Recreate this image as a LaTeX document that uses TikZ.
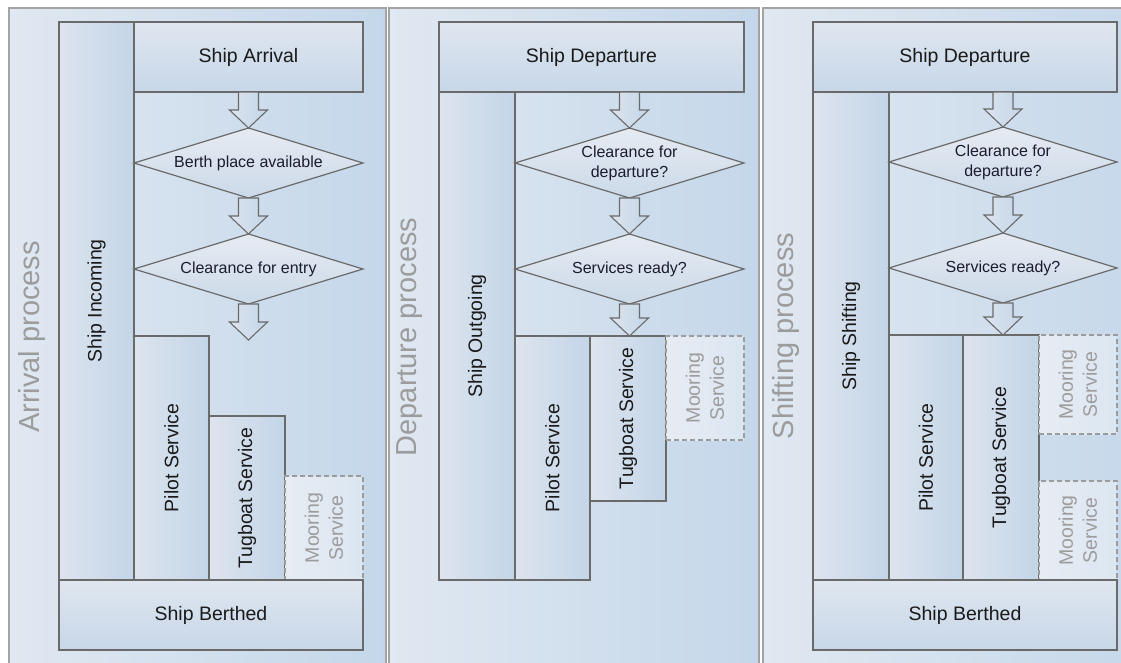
\documentclass[tikz,border=0pt]{standalone}
\usepackage{fontspec}
\setmainfont{Liberation Sans}
\usetikzlibrary{calc}
\definecolor{panelL}{HTML}{E0E8F1}
\definecolor{panelR}{HTML}{C4D7EA}
\definecolor{boxT}{HTML}{DFE6EF}
\definecolor{boxB}{HTML}{C7D7E9}
\definecolor{laneL}{HTML}{DDE4EE}
\definecolor{laneR}{HTML}{C3D5E8}
\definecolor{edge}{HTML}{6A6A6A}
\definecolor{pborder}{HTML}{A3A3A3}
\definecolor{ghost}{HTML}{9C9C9C}
\definecolor{dmT}{HTML}{E6EBF2}
\definecolor{dmB}{HTML}{CBD9E8}
\definecolor{ink}{HTML}{1A1A1A}
\definecolor{dink}{HTML}{1C1C30}
\newcommand\blockarrow[2]{%
  \path[barrow] let \p1=(#1), \p2=(#2) in
    (\x1-10pt,\y1) -- (\x1-10pt,\y2+18pt) -- (\x1-19pt,\y2+18pt) -- (\x1,\y2)
    -- (\x1+19pt,\y2+18pt) -- (\x1+10pt,\y2+18pt) -- (\x1+10pt,\y1) -- cycle;}
\newcommand\diamondat[1]{%
  \path[diam] (#1.north) -- (#1.east) -- (#1.south) -- (#1.west) -- cycle;}
\tikzset{
  panel/.style={draw=pborder, line width=2pt, left color=panelL, right color=panelR,
    inner sep=0pt, outer sep=0pt, anchor=north west},
  hbox/.style={draw=edge, line width=1.3pt, top color=boxT, bottom color=boxB,
    inner sep=0pt, outer sep=0pt, anchor=north west,
    font=\fontsize{19.5}{23}\selectfont, text=ink},
  lane/.style={draw=edge, line width=1.3pt, left color=laneL, right color=laneR,
    inner sep=0pt, outer sep=0pt, anchor=north west},
  ghostbox/.style={draw=ghost, line width=1.2pt, dash pattern=on 5pt off 3pt,
    left color=laneL!70!white, right color=laneR!60!white,
    inner sep=0pt, outer sep=0pt, anchor=north west},
  vlabel/.style={rotate=90, inner sep=0pt, font=\fontsize{19.5}{23}\selectfont, text=ink},
  glabel/.style={rotate=90, inner sep=0pt, font=\fontsize{19.5}{24}\selectfont,
    text=ghost, align=center},
  ptitle/.style={rotate=90, inner sep=0pt, font=\fontsize{29}{34}\selectfont, text=ghost},
  dslot/.style={draw=none, inner sep=0pt, outer sep=0pt, minimum width=229pt,
    minimum height=70pt},
  dtext/.style={inner sep=0pt, font=\fontsize{16}{20}\selectfont, text=dink, align=center},
  diam/.style={draw=edge, line width=1.2pt, top color=dmT, bottom color=dmB},
  barrow/.style={draw=edge, line width=1.1pt, left color=laneL, right color=laneR},
}
\begin{document}
\begin{tikzpicture}[x=1pt,y=-1pt]
\useasboundingbox (0,0) rectangle (1121,662);
\fill[white] (0,0) rectangle (1121,662);

% ---------------- Panel 1: Arrival ----------------
\node[panel, minimum width=377pt, minimum height=670pt] (P1) at (9,8) {};
\node[ptitle] (t1) at (32,337) {Arrival process};
\node[lane, minimum width=75pt, minimum height=558pt] (inc) at (59,22) {};
\node[vlabel] (incl) at (inc.center) {Ship Incoming};
\node[hbox, minimum width=229pt, minimum height=70pt] (arr) at (134,22) {Ship Arrival};
\node[dslot] (d1) at (248.5,163) {};
\diamondat{d1}
\node[dtext] (d1t) at (d1.center) {Berth place available};
\node[dslot] (d2) at (248.5,269) {};
\diamondat{d2}
\node[dtext] (d2t) at (d2.center) {Clearance for entry};
\coordinate (e1) at (248.5,340);
\blockarrow{arr.south}{d1.north}
\blockarrow{d1.south}{d2.north}
\blockarrow{d2.south}{e1}
\node[lane, minimum width=75pt, minimum height=244pt] (pil1) at (134,336) {};
\node[vlabel] (pil1l) at (pil1.center) {Pilot Service};
\node[lane, minimum width=76pt, minimum height=164pt] (tug1) at (209,416) {};
\node[vlabel] (tug1l) at (tug1.center) {Tugboat Service};
\node[ghostbox, minimum width=78pt, minimum height=104pt] (moo1) at (285,476) {};
\node[glabel] (moo1l) at (moo1.center) {Mooring\\Service};
\node[hbox, minimum width=304pt, minimum height=70pt] (ber1) at (59,580) {Ship Berthed};

% ---------------- Panel 2: Departure ----------------
\node[panel, minimum width=370pt, minimum height=670pt] (P2) at (389,8) {};
\node[ptitle] (t2) at (410,337) {Departure process};
\node[lane, minimum width=76pt, minimum height=488pt] (out) at (439,92) {};
\node[vlabel] (outl) at (out.center) {Ship Outgoing};
\node[hbox, minimum width=305pt, minimum height=70pt] (dep2) at (439,22) {Ship Departure};
\node[dslot] (d3) at (629.5,163) {};
\diamondat{d3}
\node[dtext] (d3t) at (d3.center) {Clearance for\\departure?};
\node[dslot] (d4) at (629.5,269) {};
\diamondat{d4}
\node[dtext] (d4t) at (d4.center) {Services ready?};
\coordinate (e2) at (629.5,336);
\blockarrow{dep2.south -| d3.north}{d3.north}
\blockarrow{d3.south}{d4.north}
\blockarrow{d4.south}{e2}
\node[lane, minimum width=75pt, minimum height=244pt] (pil2) at (515,336) {};
\node[vlabel] (pil2l) at (pil2.center) {Pilot Service};
\node[lane, minimum width=76pt, minimum height=165pt] (tug2) at (590,336) {};
\node[vlabel] (tug2l) at (tug2.center) {Tugboat Service};
\node[ghostbox, minimum width=78pt, minimum height=104pt] (moo2) at (666,336) {};
\node[glabel] (moo2l) at (moo2.center) {Mooring\\Service};

% ---------------- Panel 3: Shifting ----------------
\node[panel, minimum width=400pt, minimum height=670pt] (P3) at (763,8) {};
\node[ptitle] (t3) at (786,336) {Shifting process};
\node[lane, minimum width=76pt, minimum height=488pt] (shf) at (813,92) {};
\node[vlabel] (shfl) at (shf.center) {Ship Shifting};
\node[hbox, minimum width=304pt, minimum height=70pt] (dep3) at (813,22) {Ship Departure};
\node[dslot, minimum width=228pt] (d5) at (1003,162) {};
\diamondat{d5}
\node[dtext] (d5t) at (d5.center) {Clearance for\\departure?};
\node[dslot, minimum width=228pt] (d6) at (1003,268) {};
\diamondat{d6}
\node[dtext] (d6t) at (d6.center) {Services ready?};
\coordinate (e3) at (1003,335);
\blockarrow{dep3.south -| d5.north}{d5.north}
\blockarrow{d5.south}{d6.north}
\blockarrow{d6.south}{e3}
\node[lane, minimum width=74pt, minimum height=245pt] (pil3) at (889,335) {};
\node[vlabel] (pil3l) at (pil3.center) {Pilot Service};
\node[lane, minimum width=76pt, minimum height=245pt] (tug3) at (963,335) {};
\node[vlabel] (tug3l) at (tug3.center) {Tugboat Service};
\node[ghostbox, minimum width=78pt, minimum height=99pt] (moo3) at (1039,335) {};
\node[glabel] (moo3l) at (moo3.center) {Mooring\\Service};
\node[ghostbox, minimum width=78pt, minimum height=99pt] (moo4) at (1039,481) {};
\node[glabel] (moo4l) at (moo4.center) {Mooring\\Service};
\node[hbox, minimum width=304pt, minimum height=70pt] (ber3) at (813,580) {Ship Berthed};
\end{tikzpicture}
\end{document}
